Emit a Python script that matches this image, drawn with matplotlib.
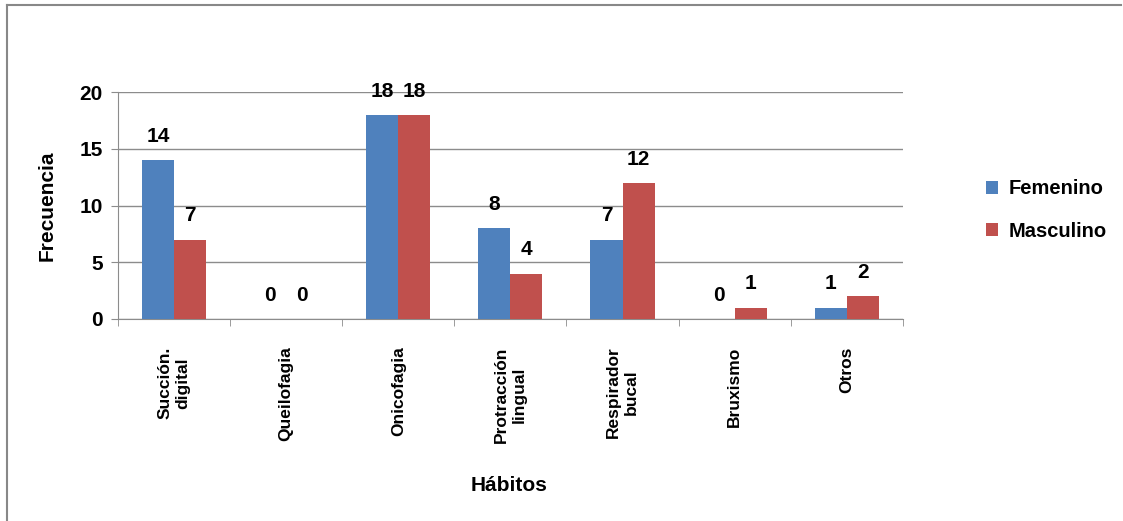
import numpy as np
import matplotlib
matplotlib.use("Agg")
import matplotlib.pyplot as plt
from matplotlib.lines import Line2D

habitos = ["Succión.\ndigital", "Queilofagia", "Onicofagia", "Protracción\nlingual",
           "Respirador\nbucal", "Bruxismo", "Otros"]
femenino = [14, 0, 18, 8, 7, 0, 1]
masculino = [7, 0, 18, 4, 12, 1, 2]
series_names = ["Femenino", "Masculino"]
yticks = [0, 5, 10, 15, 20]

azul = "#4F81BD"
rojo = "#C0504D"
gris = "#8C8C8C"

plt.rcParams["font.family"] = ["Liberation Sans", "DejaVu Sans"]
plt.rcParams["font.weight"] = "bold"

fig = plt.figure(figsize=[11.23, 5.21], dpi=100)
ax = fig.add_axes([0.105, 0.388, 0.699, 0.435])

x = np.arange(len(habitos))
w = 0.286
bars_f = ax.bar(x - w / 2, femenino, w, color=azul, label=series_names[0], zorder=3)
bars_m = ax.bar(x + w / 2, masculino, w, color=rojo, label=series_names[1], zorder=3)

for bars, vals in ((bars_f, femenino), (bars_m, masculino)):
    for b, v in zip(bars, vals):
        ax.annotate(str(v), (b.get_x() + b.get_width() / 2, v), xytext=(0, 17),
                    textcoords="offset points", ha="center", va="center",
                    fontsize=15, fontweight="bold", zorder=4)

ax.set_xlim(-0.5, len(habitos) - 0.5)
ax.set_ylim(0, 20)
ax.set_yticks(yticks)
ax.yaxis.grid(True, color=gris, linewidth=1, zorder=0)
ax.tick_params(axis="y", length=5, color=gris, labelsize=15, pad=6)

ax.set_xticks(x)
ax.set_xticklabels(habitos, rotation=90, ha="center", va="top", multialignment="center",
                   fontsize=12.5, fontweight="bold")
ax.set_xticks(np.arange(-0.5, len(habitos)), minor=True)
ax.tick_params(axis="x", which="major", length=0, pad=20)
ax.tick_params(axis="x", which="minor", length=5, color=gris)

for s in ("top", "right"):
    ax.spines[s].set_visible(False)
for s in ("left", "bottom"):
    ax.spines[s].set_color(gris)

ax.set_ylabel("Frecuencia", fontsize=15, fontweight="bold", labelpad=16)
fig.text(0.453, 0.069, "Hábitos", ha="center", va="center", fontsize=15, fontweight="bold")

ax.legend(loc="center left", bbox_to_anchor=(1.083, 0.48), frameon=False, fontsize=14.5,
          handlelength=0.6, handleheight=0.6, handletextpad=0.5, labelspacing=1.15)

# marco exterior
fig.add_artist(Line2D([0.006, 0.006], [0, 0.99], color="#888888", linewidth=1.5))
fig.add_artist(Line2D([0.006, 0.998], [0.99, 0.99], color="#888888", linewidth=1.5))

fig.savefig("out.png", dpi=100)
